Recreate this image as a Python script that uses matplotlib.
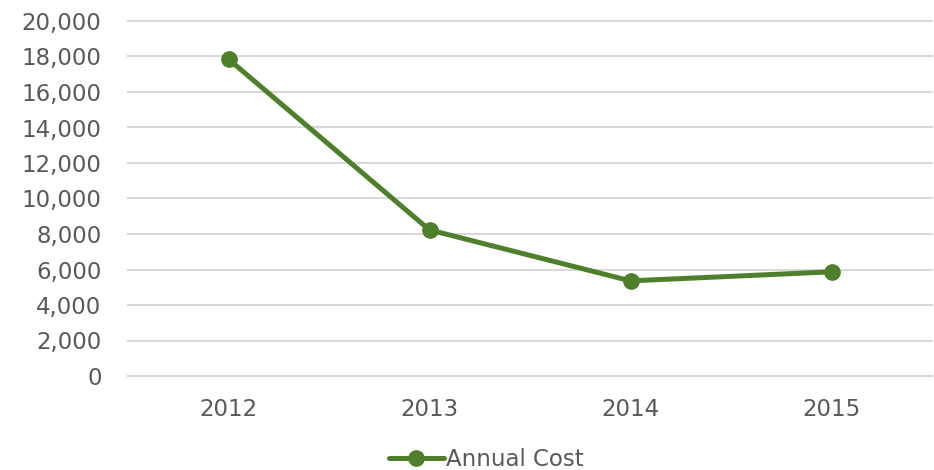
import matplotlib.pyplot as plt
from matplotlib.ticker import FuncFormatter

years = ["2012", "2013", "2014", "2015"]
annual_cost = [17850, 8230, 5360, 5870]

green = "#4E7F2A"
text_color = "#595959"
grid_color = "#D9D9D9"

fig = plt.figure(figsize=(9.34, 4.70), dpi=100)
ax = fig.add_axes([128 / 934, 1 - 376 / 470, 804 / 934, 355 / 470])

x = range(len(years))
ax.plot(x, annual_cost, color=green, lw=3.6, marker="o", ms=11,
        label="Annual Cost", solid_capstyle="round")

ax.set_xlim(-0.5, len(years) - 0.5)
ax.set_ylim(0, 20000)
ax.set_yticks(range(0, 20001, 2000))
ax.yaxis.set_major_formatter(FuncFormatter(lambda v, _: f"{int(v):,}"))
ax.set_xticks(list(x))
ax.set_xticklabels(years)

ax.grid(axis="y", color=grid_color, lw=1.5)
for gl in ax.get_ygridlines():
    gl.set_clip_on(False)
ax.set_axisbelow(True)
for side in ["left", "right", "top"]:
    ax.spines[side].set_visible(False)
ax.spines["bottom"].set_color(grid_color)
ax.spines["bottom"].set_linewidth(1.5)

ax.tick_params(axis="both", length=0, labelsize=16.5, labelcolor=text_color)
ax.tick_params(axis="x", pad=16)
ax.tick_params(axis="y", pad=19)

fig.legend(loc="center", bbox_to_anchor=(486 / 934, 1 - 460 / 470),
           frameon=False, fontsize=16.5, labelcolor=text_color,
           handlelength=2.4, handletextpad=0.1)

fig.savefig("out.png", dpi=100)
